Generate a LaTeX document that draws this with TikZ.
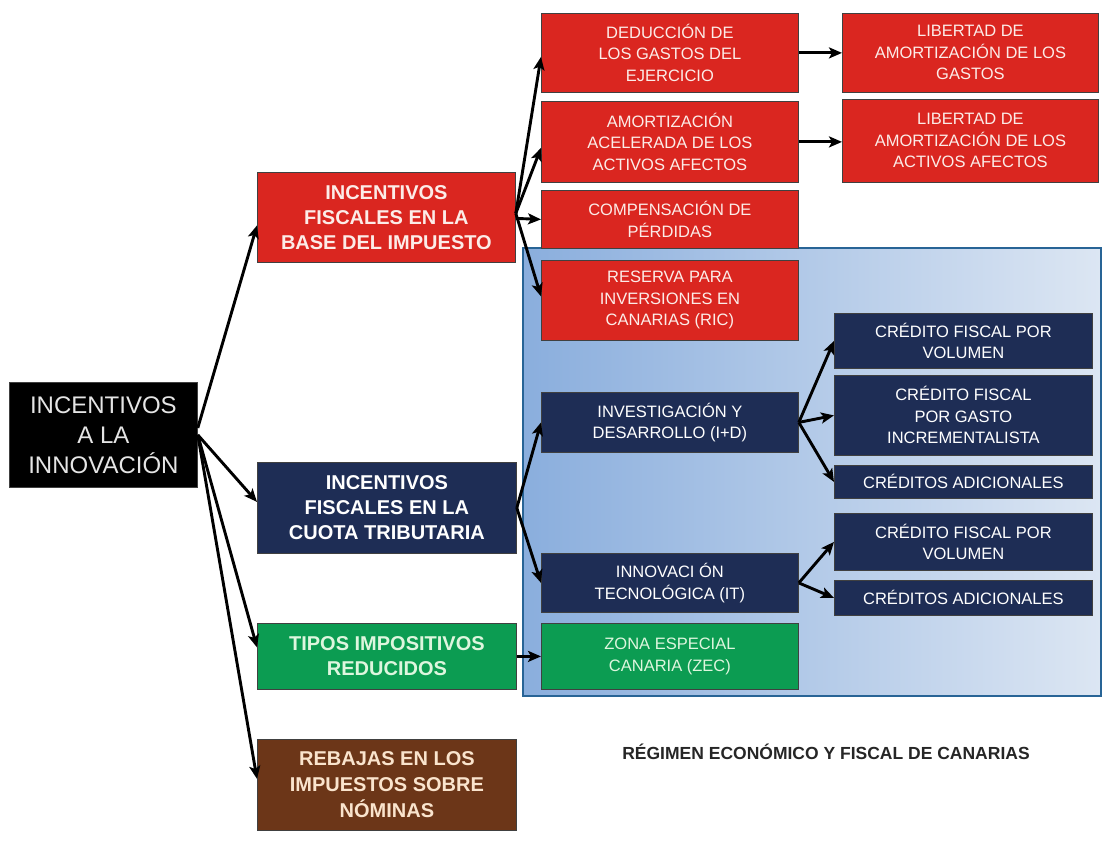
\documentclass[tikz,border=0pt]{standalone}
\usepackage{fontspec}
\setmainfont{Liberation Sans}
\usetikzlibrary{arrows.meta,calc}
\definecolor{cred}{RGB}{218,38,32}
\definecolor{cnavy}{RGB}{30,45,85}
\definecolor{cgreen}{RGB}{12,156,82}
\definecolor{cbrown}{RGB}{108,54,24}
\definecolor{bgL}{RGB}{138,174,221}
\definecolor{bgR}{RGB}{220,230,243}
\definecolor{bgB}{RGB}{40,100,150}
\definecolor{tred}{RGB}{252,236,232}
\definecolor{tgreen}{RGB}{222,246,222}
\definecolor{tbrown}{RGB}{250,228,205}
\tikzset{
  bx/.style={draw=black!75, line width=0.8pt, inner sep=0pt, anchor=north west, align=center,
    font=\fontsize{16.5}{21.5}\selectfont},
  bigf/.style={font=\bfseries\fontsize{20}{25}\selectfont},
  redbx/.style={bx, fill=cred, text=tred},
  navybx/.style={bx, fill=cnavy, text=white},
  greenbx/.style={bx, fill=cgreen, text=tgreen},
  brownbx/.style={bx, fill=cbrown, text=tbrown},
  arr/.style={line width=2.9pt, -{Stealth[length=13pt,width=11pt,inset=3pt]}},
}
\begin{document}
\begin{tikzpicture}[x=1pt,y=-1pt]
\useasboundingbox[fill=white] (0,0) rectangle (1102,840);

% background region of the REF
\shade[left color=bgL, right color=bgR] (523,248) rectangle (1101,696);
\draw[bgB, line width=1.5pt] (523,248) rectangle (1101,696);

% root
\node[bx, fill=black, text=white!90!black, minimum width=188pt, minimum height=105pt,
  font=\fontsize{24}{30}\selectfont] (root) at (9,382) {INCENTIVOS\\A LA\\INNOVACIÓN};

% second column
\node[redbx, bigf, minimum width=258pt, minimum height=90pt] (base) at (257,172)
  {INCENTIVOS\\FISCALES EN LA\\BASE DEL IMPUESTO};
\node[navybx, bigf, minimum width=259pt, minimum height=91pt] (cuota) at (257,462)
  {INCENTIVOS\\FISCALES EN LA\\CUOTA TRIBUTARIA};
\node[greenbx, bigf, minimum width=259pt, minimum height=66pt] (tipos) at (257,623)
  {TIPOS IMPOSITIVOS\\REDUCIDOS};
\node[brownbx, minimum width=259pt, minimum height=91pt,
  font=\bfseries\fontsize{20}{26}\selectfont] (rebajas) at (257,739)
  {REBAJAS EN LOS\\IMPUESTOS SOBRE\\NÓMINAS};

% third column
\node[redbx, minimum width=257pt, minimum height=79pt] (ded) at (541,13)
  {DEDUCCIÓN DE\\LOS GASTOS DEL\\EJERCICIO};
\node[redbx, minimum width=257pt, minimum height=81pt] (amort) at (541,101)
  {AMORTIZACIÓN\\ACELERADA DE LOS\\ACTIVOS AFECTOS};
\node[redbx, minimum width=257pt, minimum height=58pt] (comp) at (541,190)
  {COMPENSACIÓN DE\\PÉRDIDAS};
\node[redbx, minimum width=257pt, minimum height=80pt] (ric) at (541,260)
  {RESERVA PARA\\INVERSIONES EN\\CANARIAS (RIC)};
\node[navybx, minimum width=257pt, minimum height=60pt] (id) at (541,392)
  {INVESTIGACIÓN Y\\DESARROLLO (I+D)};
\node[navybx, minimum width=257pt, minimum height=59pt] (it) at (541,553)
  {INNOVACI ÓN\\TECNOLÓGICA (IT)};
\node[greenbx, minimum width=257pt, minimum height=66pt] (zec) at (541,623)
  {ZONA ESPECIAL\\CANARIA (ZEC)};

% fourth column
\node[redbx, minimum width=256pt, minimum height=79pt] (lib1) at (842,13)
  {LIBERTAD DE\\AMORTIZACIÓN DE LOS\\GASTOS};
\node[redbx, minimum width=256pt, minimum height=83pt] (lib2) at (842,99)
  {LIBERTAD DE\\AMORTIZACIÓN DE LOS\\ACTIVOS AFECTOS};
\node[navybx, minimum width=258pt, minimum height=55pt] (cfv1) at (834,313)
  {CRÉDITO FISCAL POR\\VOLUMEN};
\node[navybx, minimum width=258pt, minimum height=80pt] (cfgi) at (834,375)
  {CRÉDITO FISCAL\\POR GASTO\\INCREMENTALISTA};
\node[navybx, minimum width=258pt, minimum height=33pt] (ca1) at (834,465)
  {CRÉDITOS ADICIONALES};
\node[navybx, minimum width=258pt, minimum height=57pt] (cfv2) at (834,513)
  {CRÉDITO FISCAL POR\\VOLUMEN};
\node[navybx, minimum width=258pt, minimum height=35pt] (ca2) at (834,580)
  {CRÉDITOS ADICIONALES};

% caption
\node[font=\bfseries\fontsize{17.5}{20}\selectfont, text=black!85] (cap) at (826,752)
  {RÉGIMEN ECONÓMICO Y FISCAL DE CANARIAS};

% connectors
\draw[arr] ($(root.east)+(0,-7)$) -- ($(base.west)+(0,8)$);
\draw[arr] (root.east) -- ($(cuota.west)+(0,-6)$);
\draw[arr] (root.east) -- ($(tipos.west)+(0,-9)$);
\draw[arr] (root.east) -- ($(rebajas.west)+(0,-6)$);

\draw[arr] ($(base.east)+(0,-4)$) -- ($(ded.west)+(0,4)$);
\draw[arr] ($(base.east)+(0,-4)$) -- ($(amort.west)+(0,6)$);
\draw[arr] ($(base.east)+(0,1)$) -- (comp.west);
\draw[arr] ($(base.east)+(0,-4)$) -- ($(ric.west)+(0,-4)$);

\draw[arr] (ded.east) -- (ded.east -| lib1.west);
\draw[arr] (amort.east) -- (amort.east -| lib2.west);

\draw[arr] (cuota.east) -- (id.west);
\draw[arr] (cuota.east) -- (it.west);
\draw[arr] (tipos.east) -- (tipos.east -| zec.west);

\draw[arr] (id.east) -- (cfv1.west);
\draw[arr] (id.east) -- (cfgi.west);
\draw[arr] (id.east) -- (ca1.west);
\draw[arr] (it.east) -- (cfv2.west);
\draw[arr] (it.east) -- (ca2.west);
\end{tikzpicture}
\end{document}
